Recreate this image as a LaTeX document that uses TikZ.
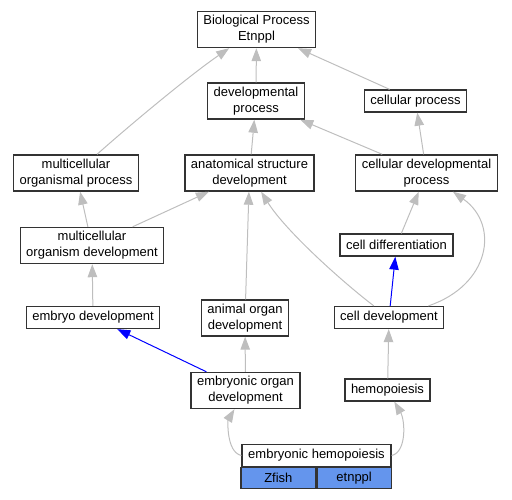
\documentclass[tikz,border=0pt]{standalone}
\usepackage{fontspec}
\setmainfont{Liberation Sans}
\usetikzlibrary{arrows.meta}
\definecolor{edgegray}{RGB}{190,190,190}
\definecolor{hitblue}{RGB}{100,149,237}

\begin{document}
\begin{tikzpicture}
[x=1pt,y=-1pt
,gt/.style={draw=black!80,line width=1.3pt,fill=white,align=center,inner xsep=6pt,inner ysep=4pt,minimum height=22pt,font=\fontsize{13}{16}\selectfont}
,gc/.style={gt,fill=hitblue,minimum height=21pt}
,ge/.style={draw=edgegray,line width=1pt,arrows={-Triangle[length=13pt,width=9.5pt]}}
,pe/.style={ge,draw=blue}
]
\useasboundingbox (0,0) rectangle (512,499);
\node[gt] (bp) at (256.5,29.5) {Biological Process\\Etnppl};
\node[gt] (dev) at (256,101) {developmental\\process};
\node[gt] (cp) at (415.5,101) {cellular process};
\node[gt] (mop) at (76,173) {multicellular\\organismal process};
\node[gt] (asd) at (249.5,173) {anatomical structure\\development};
\node[gt] (cdp) at (426.5,173) {cellular developmental\\process};
\node[gt] (mod) at (92,245.5) {multicellular\\organism development};
\node[gt] (cdiff) at (396.5,245) {cell differentiation};
\node[gt] (embd) at (93,317.5) {embryo development};
\node[gt] (aod) at (245,318) {animal organ\\development};
\node[gt] (cdev) at (389,317.5) {cell development};
\node[gt] (eod) at (245.5,390.5) {embryonic organ\\development};
\node[gt] (hemo) at (387.5,390) {hemopoiesis};
\node[gt,minimum width=149pt] (eh) at (316.5,455.5) {embryonic hemopoiesis};
\node[gc,minimum width=75pt,anchor=north east] (ehz) at (eh.south) {Zfish};
\node[gc,minimum width=74pt,anchor=north west] (ehe) at (eh.south) {etnppl};
\draw[ge] (dev) -- (bp);
\draw[ge] (cp) -- (bp);
\draw[ge] (mop) .. controls (130,125) and (190,75) .. (bp);
\draw[ge] (asd) -- (dev);
\draw[ge] (cdp) -- (dev);
\draw[ge] (cdp) -- (cp);
\draw[ge] (mod) -- (mop);
\draw[ge] (mod) -- (asd);
\draw[ge] (cdiff) -- (cdp);
\draw[ge] (embd) -- (mod);
\draw[ge] (aod) -- (asd);
\draw[ge] (cdev) .. controls (340,280) and (285,230) .. (asd);
\draw[ge] ([xshift=-16pt]cdev.north east) .. controls (490,285) and (500,225) .. (cdp);
\draw[pe] (cdev) -- (cdiff);
\draw[ge] (eod) -- (aod);
\draw[pe] (eod) -- (embd);
\draw[ge] (hemo) -- (cdev);
\draw[ge] (eh.west) .. controls (226,452) and (228,420) .. (eod);
\draw[ge] (eh.east) .. controls (407,452) and (405,420) .. (hemo);
\end{tikzpicture}
\end{document}
